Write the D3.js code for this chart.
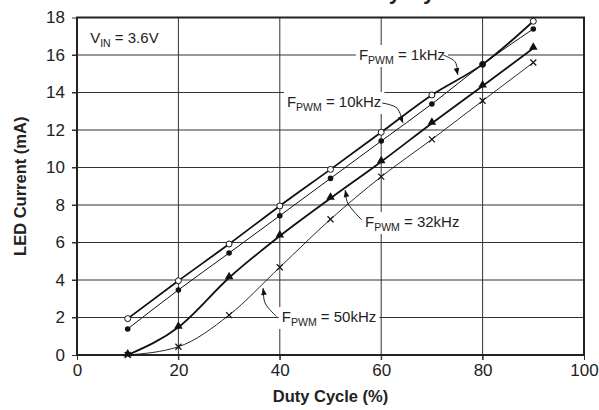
<!DOCTYPE html>
<html>
<head>
<meta charset="utf-8">
<script src="https://cdn.jsdelivr.net/npm/d3@7/dist/d3.min.js"></script>
<style>
  body { margin: 0; background: #fff; }
  svg { display: block; font-family: Arial, "Liberation Sans", sans-serif; }
</style>
</head>
<body>
<svg id="chart"></svg>
<script>
// duty cycle (%) and LED current (mA) for each PWM frequency
const duty = [10, 20, 30, 40, 50, 60, 70, 80, 90];
const f1k  = [1.94, 3.96, 5.92, 7.95, 9.9, 11.88, 13.87, 15.5, 17.8];
const f10k = [1.39, 3.47, 5.44, 7.43, 9.42, 11.41, 13.39, 15.5, 17.39];
const f32k = [0, 1.48, 4.12, 6.35, 8.36, 10.31, 12.36, 14.35, 16.36];
const f50k = [0, 0.44, 2.13, 4.68, 7.24, 9.51, 11.5, 13.56, 15.6];

const xTicks = [0, 20, 40, 60, 80, 100];
const yTicks = [0, 2, 4, 6, 8, 10, 12, 14, 16, 18];

const width = 599, height = 410;
const margin = { top: 17.5, right: 15, bottom: 55, left: 77 };
const innerWidth = width - margin.left - margin.right;
const innerHeight = height - margin.top - margin.bottom;

const svg = d3.select('#chart').attr('width', width).attr('height', height);
const chart = svg.append('g').attr('transform', `translate(${margin.left}, ${margin.top})`);

const xscale = d3.scaleLinear().domain([0, 100]).range([0, innerWidth]);
const yscale = d3.scaleLinear().domain([0, 18]).range([innerHeight, 0]);

// title (cut off at the top of the picture)
const title = svg.append('text')
    .attr('y', -1.5)
    .attr('font-size', 22).attr('font-weight', 'bold').attr('fill', '#222')
    .text('LED Current vs Duty Cycle');
{
    const n = title.node();
    const i = 'LED Current vs Dut'.length;
    const yc = n.getSubStringLength(0, i) + n.getSubStringLength(i, 1) / 2;
    title.attr('x', 395 - yc);
}

// grid
chart.append('g').selectAll('line').data(xTicks.slice(1, -1)).enter()
    .append('line')
    .attr('x1', d => xscale(d)).attr('x2', d => xscale(d))
    .attr('y1', 0).attr('y2', innerHeight + 5)
    .attr('stroke', '#333').attr('stroke-width', 1);
chart.append('g').selectAll('line').data(yTicks.slice(1, -1)).enter()
    .append('line')
    .attr('y1', d => yscale(d)).attr('y2', d => yscale(d))
    .attr('x1', -5).attr('x2', innerWidth)
    .attr('stroke', '#333').attr('stroke-width', 1);

// axes
const xaxis = d3.axisBottom(xscale).tickValues(xTicks).tickSize(5).tickSizeOuter(0).tickPadding(4);
const yaxis = d3.axisLeft(yscale).tickValues(yTicks).tickSize(5).tickSizeOuter(0).tickPadding(7);

const xg = chart.append('g').attr('transform', `translate(0, ${innerHeight})`).call(xaxis);
const yg = chart.append('g').call(yaxis);
[xg, yg].forEach(g => {
    g.select('.domain').remove();
    g.selectAll('text').attr('font-size', 17).attr('fill', '#222').attr('font-family', null);
    g.selectAll('line').attr('stroke', '#333');
});

// annotation labels, positions in data units
const labels = [
    { x: 2.6,  y: 16.64, main: 'V', sub: 'IN', rest: ' = 3.6V', box: false },
    { x: 55.6, y: 15.73, main: 'F', sub: 'PWM', rest: ' = 1kHz', box: true },
    { x: 41.4, y: 13.23, main: 'F', sub: 'PWM', rest: ' = 10kHz', box: true },
    { x: 56.8, y: 6.83,  main: 'F', sub: 'PWM', rest: ' = 32kHz', box: true },
    { x: 40.4, y: 1.76,  main: 'F', sub: 'PWM', rest: ' = 50kHz', box: true }
];
const leaders = [
    [[72.2, 16.0], [74.6, 15.63], [75.1, 14.93]],
    [[60.2, 13.44], [63.1, 13.17], [64.3, 12.37]],
    [[56.2, 7.2], [53.4, 8.1], [52.9, 8.8]],
    [[39.4, 2.04], [37.1, 2.77], [36.7, 3.57]]
];

const boxLayer = chart.append('g');

// plot frame
chart.append('rect')
    .attr('width', innerWidth).attr('height', innerHeight)
    .attr('fill', 'none').attr('stroke', '#222').attr('stroke-width', 2);

// series
const series = [
    { values: f1k,  w: 1.8, mark: 'circle' },
    { values: f10k, w: 1,   mark: 'dot' },
    { values: f32k, w: 1.8, mark: 'triangle' },
    { values: f50k, w: 0.9, mark: 'cross' }
];
const line = d3.line()
    .x(d => xscale(d[0])).y(d => yscale(d[1]))
    .curve(d3.curveMonotoneX);

series.forEach(s => {
    const pts = duty.map((d, i) => [d, s.values[i]]);
    chart.append('path').datum(pts)
        .attr('d', line).attr('fill', 'none')
        .attr('stroke', '#111').attr('stroke-width', s.w);
    const g = chart.append('g');
    pts.forEach(p => {
        const cx = xscale(p[0]), cy = yscale(p[1]);
        if (s.mark === 'circle') {
            g.append('circle').attr('cx', cx).attr('cy', cy).attr('r', 3)
                .attr('fill', '#fff').attr('stroke', '#111').attr('stroke-width', 1);
        } else if (s.mark === 'dot') {
            g.append('circle').attr('cx', cx).attr('cy', cy).attr('r', 2.8).attr('fill', '#111');
        } else if (s.mark === 'triangle') {
            g.append('path').attr('d', d3.symbol(d3.symbolTriangle, 32)())
                .attr('transform', `translate(${cx}, ${cy - 1})`).attr('fill', '#111');
        } else {
            g.append('path')
                .attr('d', `M${cx - 3},${cy - 3}L${cx + 3},${cy + 3}M${cx - 3},${cy + 3}L${cx + 3},${cy - 3}`)
                .attr('stroke', '#111').attr('stroke-width', 1.2);
        }
    });
});

// labels with subscripts
labels.forEach(l => {
    const t = chart.append('text')
        .attr('x', xscale(l.x)).attr('y', yscale(l.y))
        .attr('font-size', 15).attr('fill', '#222');
    t.append('tspan').text(l.main);
    t.append('tspan').attr('dy', 4).attr('font-size', 10.5).text(l.sub);
    t.append('tspan').attr('dy', -4).text(l.rest);
    if (l.box) {
        const b = t.node().getBBox();
        boxLayer.append('rect')
            .attr('x', b.x - 3).attr('y', b.y - 1)
            .attr('width', b.width + 6).attr('height', b.height + 2)
            .attr('fill', '#fff');
    }
});

// leader arrows
const leaderLine = d3.line()
    .x(d => xscale(d[0])).y(d => yscale(d[1]))
    .curve(d3.curveCatmullRom);
leaders.forEach(pts => {
    const n = pts.length;
    const tip = [xscale(pts[n - 1][0]), yscale(pts[n - 1][1])];
    const prev = [xscale(pts[n - 2][0]), yscale(pts[n - 2][1])];
    chart.append('path').datum(pts)
        .attr('d', leaderLine).attr('fill', 'none')
        .attr('stroke', '#222').attr('stroke-width', 1);
    const ang = Math.atan2(tip[1] - prev[1], tip[0] - prev[0]) * 180 / Math.PI;
    chart.append('path')
        .attr('d', 'M0,0L-7,-2.8L-7,2.8Z')
        .attr('transform', `translate(${tip[0]}, ${tip[1]}) rotate(${ang})`)
        .attr('fill', '#111');
});

// axis titles
svg.append('text')
    .attr('x', margin.left + innerWidth / 2).attr('y', 402)
    .attr('text-anchor', 'middle')
    .attr('font-size', 16.5).attr('font-weight', 'bold').attr('fill', '#222')
    .text('Duty Cycle (%)');
svg.append('text')
    .attr('transform', `translate(26, ${margin.top + innerHeight / 2}) rotate(-90)`)
    .attr('text-anchor', 'middle')
    .attr('font-size', 16.5).attr('font-weight', 'bold').attr('fill', '#222')
    .text('LED Current (mA)');
</script>
</body>
</html>
